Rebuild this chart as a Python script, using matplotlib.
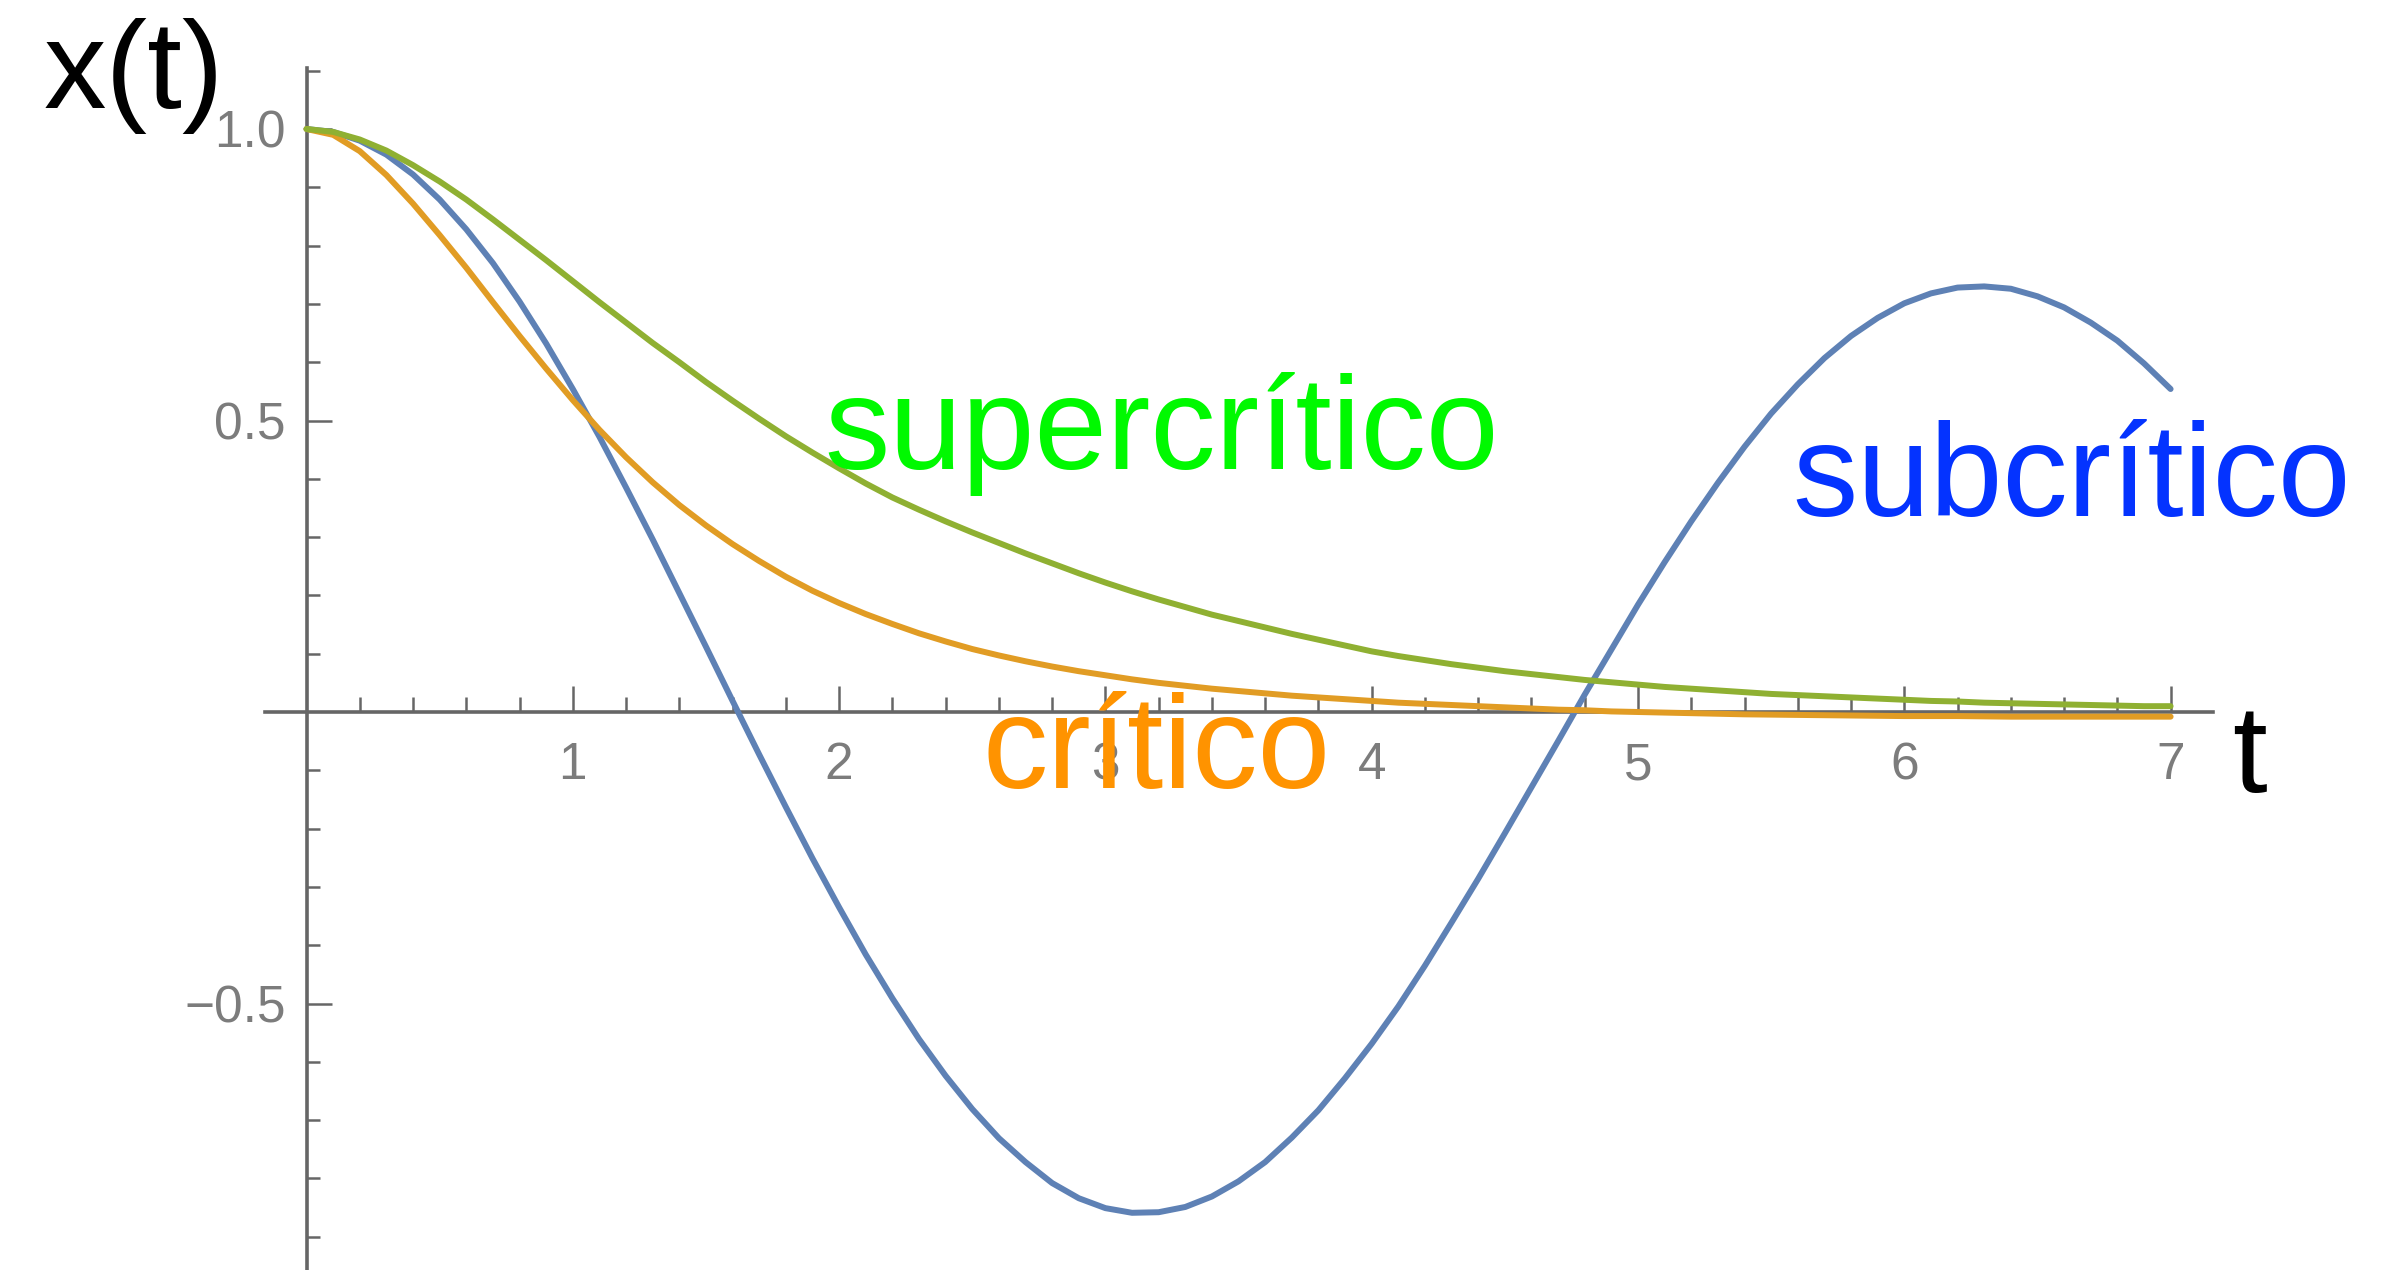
import numpy as np
import matplotlib
matplotlib.use('Agg')
import matplotlib.pyplot as plt

plt.rcParams['font.family'] = ['Liberation Sans', 'DejaVu Sans']

# ---------------- data ----------------
t = [0.0, 0.1, 0.2, 0.3, 0.4, 0.5, 0.6, 0.7, 0.8, 0.9,
     1.0, 1.1, 1.2, 1.3, 1.4, 1.5, 1.6, 1.7, 1.8, 1.9,
     2.0, 2.1, 2.2, 2.3, 2.4, 2.5, 2.6, 2.7, 2.8, 2.9,
     3.0, 3.1, 3.2, 3.3, 3.4, 3.5, 3.6, 3.7, 3.8, 3.9,
     4.0, 4.1, 4.2, 4.3, 4.4, 4.5, 4.6, 4.7, 4.8, 4.9,
     5.0, 5.1, 5.2, 5.3, 5.4, 5.5, 5.6, 5.7, 5.8, 5.9,
     6.0, 6.1, 6.2, 6.3, 6.4, 6.5, 6.6, 6.7, 6.8, 6.9, 7.0]

subcritico = [1.000, 0.995, 0.980, 0.956, 0.922, 0.879, 0.828, 0.770, 0.704, 0.632,
              0.554, 0.472, 0.385, 0.296, 0.204, 0.112, 0.019, -0.073, -0.163, -0.251,
              -0.335, -0.416, -0.491, -0.561, -0.624, -0.681, -0.731, -0.772, -0.808, -0.834,
              -0.851, -0.859, -0.858, -0.849, -0.831, -0.805, -0.772, -0.730, -0.683, -0.628,
              -0.569, -0.505, -0.435, -0.361, -0.286, -0.208, -0.129, -0.050, 0.030, 0.107,
              0.184, 0.257, 0.327, 0.393, 0.455, 0.512, 0.562, 0.607, 0.645, 0.676,
              0.701, 0.718, 0.728, 0.730, 0.726, 0.713, 0.694, 0.668, 0.637, 0.598, 0.554]

critico = [1.000, 0.990, 0.962, 0.921, 0.872, 0.818, 0.762, 0.703, 0.645, 0.589,
           0.535, 0.484, 0.437, 0.394, 0.355, 0.320, 0.288, 0.259, 0.232, 0.208,
           0.187, 0.168, 0.151, 0.135, 0.121, 0.108, 0.097, 0.087, 0.078, 0.070,
           0.063, 0.056, 0.050, 0.045, 0.040, 0.036, 0.032, 0.028, 0.025, 0.022,
           0.019, 0.016, 0.014, 0.012, 0.010, 0.008, 0.006, 0.004, 0.003, 0.001,
           0.000, -0.001, -0.002, -0.003, -0.004, -0.0045, -0.005, -0.0055, -0.006, -0.0065,
           -0.007, -0.007, -0.007, -0.0075, -0.008, -0.008, -0.008, -0.008, -0.008, -0.008, -0.008]

supercritico = [1.000, 0.995, 0.982, 0.963, 0.938, 0.910, 0.879, 0.845, 0.810, 0.775,
                0.739, 0.703, 0.668, 0.633, 0.600, 0.566, 0.534, 0.503, 0.473, 0.445,
                0.418, 0.392, 0.368, 0.347, 0.327, 0.308, 0.290, 0.272, 0.255, 0.238,
                0.222, 0.207, 0.193, 0.180, 0.167, 0.156, 0.145, 0.134, 0.124, 0.114,
                0.104, 0.096, 0.089, 0.082, 0.076, 0.070, 0.065, 0.060, 0.055, 0.051,
                0.047, 0.043, 0.040, 0.037, 0.034, 0.031, 0.029, 0.027, 0.025, 0.023,
                0.021, 0.019, 0.018, 0.016, 0.015, 0.014, 0.013, 0.012, 0.011, 0.010, 0.010]

x_ticks = [1, 2, 3, 4, 5, 6, 7]
x_tick_labels = ['1', '2', '3', '4', '5', '6', '7']
y_ticks = [-0.5, 0.5, 1.0]
y_tick_labels = ['\u22120.5', '0.5', '1.0']

# ---------------- layout ----------------
W, H = 2408, 1270
fig = plt.figure(figsize=(W / 100, H / 100), dpi=100)
fig.patch.set_facecolor('white')
ax = fig.add_axes([0, 0, 1, 1])
ax.set_facecolor('none')

X0, XU = 306.5, 266.3   # pixel of t=0, pixels per unit
Y0, YU = 712.0, 583.0   # pixel (from top) of x=0, pixels per unit
ax.set_xlim(-X0 / XU, (W - X0) / XU)
ax.set_ylim((Y0 - H) / YU, Y0 / YU)

axis_col = '#666666'
for side in ['top', 'right']:
    ax.spines[side].set_visible(False)
ax.spines['left'].set_position(('data', 0))
ax.spines['bottom'].set_position(('data', 0))
ax.spines['left'].set_bounds(-1.0, 1.105)
ax.spines['bottom'].set_bounds(-0.155, 7.16)
for side in ['left', 'bottom']:
    ax.spines[side].set_color(axis_col)
    ax.spines[side].set_linewidth(2.6)
    ax.spines[side].set_zorder(2)

# curves
ax.plot(t, subcritico, color='#5E81B5', lw=4.3, zorder=3,
        solid_joinstyle='round', solid_capstyle='round')
ax.plot(t, critico, color='#E19C24', lw=4.3, zorder=3,
        solid_joinstyle='round', solid_capstyle='round')
ax.plot(t, supercritico, color='#8FB032', lw=4.3, zorder=3,
        solid_joinstyle='round', solid_capstyle='round')

# ticks
ax.set_xticks(x_ticks)
ax.set_xticklabels(x_tick_labels)
xminor = [v / 5 for v in range(1, 36) if v % 5 != 0]
ax.set_xticks(xminor, minor=True)
ax.set_yticks(y_ticks)
ax.set_yticklabels(y_tick_labels)
yminor = [v / 10 for v in range(-9, 12) if v % 5 != 0]
ax.set_yticks(yminor, minor=True)

ax.tick_params(axis='x', which='major', direction='in', length=19, width=1.8,
               color=axis_col, pad=21, labelsize=37, labelcolor='#7c7c7c')
ax.tick_params(axis='x', which='minor', direction='in', length=10.5, width=1.8,
               color=axis_col)
ax.tick_params(axis='y', which='major', direction='in', length=18, width=1.8,
               color=axis_col, pad=15, labelsize=37, labelcolor='#7c7c7c')
ax.tick_params(axis='y', which='minor', direction='in', length=9.5, width=1.8,
               color=axis_col)

# annotation texts (positions in figure pixels)
def ftext(px, py, s, size, color):
    fig.text(px / W, 1 - py / H, s, fontsize=size, color=color,
             ha='left', va='baseline', zorder=5)

ftext(44, 108, 'x(t)', 90, 'black')
ftext(2232, 792, 't', 90, 'black')
ftext(824, 469, 'supercrítico', 94, '#00F900')
ftext(1792, 516, 'subcrítico', 94, '#0433FF')
ftext(983, 788, 'crítico', 94, '#FF9300')

fig.savefig('out.png', dpi=100)
